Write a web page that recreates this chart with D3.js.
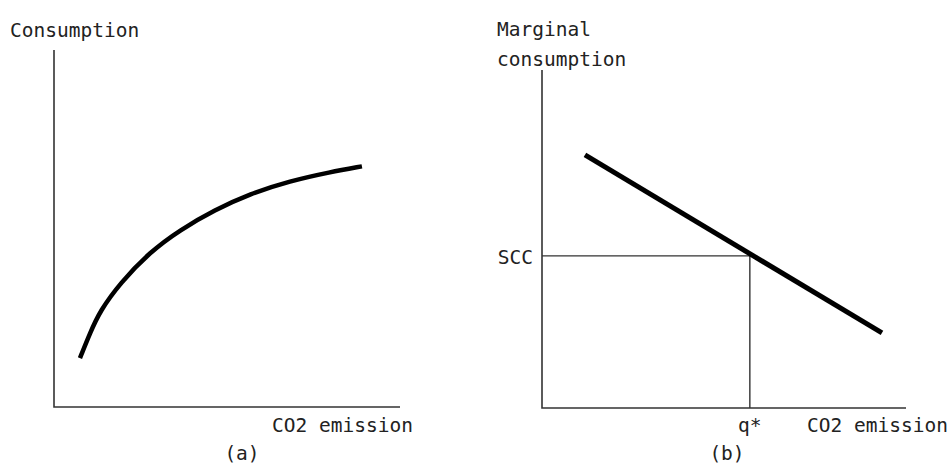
<!DOCTYPE html>
<html>
<head>
<meta charset="utf-8">
<script src="https://cdn.jsdelivr.net/npm/d3@7"></script>
<style>
  html, body { margin: 0; padding: 0; background: #fff; }
  svg text { font-family: "DejaVu Sans Mono", monospace; font-size: 19.5px; fill: #222; }
</style>
</head>
<body>
<svg id="chart" width="950" height="466"></svg>
<script>
// Panel (a): consumption as a concave function of CO2 emission
const consEmission = [7.5, 10.4, 13.3, 19.1, 27.7, 36.4, 46.5, 56.6, 68.2, 79.8, 89.0];
const consLevel    = [13.7, 20.7, 26.9, 34.7, 43.4, 49.6, 55.2, 59.7, 63.3, 65.8, 67.4];

// Panel (b): marginal consumption, a downward-sloping line
const margEmission = [11.8, 93.4];
const margLevel    = [74.9, 22.2];

// Optimum marked on panel (b)
const qStar = 57.1;
const scc = 45;

const svg = d3.select("#chart");
const axisColor = "#333";

function panel(left, right, top, bottom) {
  return {
    x: d3.scaleLinear().domain([0, 100]).range([left, right]),
    y: d3.scaleLinear().domain([0, 100]).range([bottom, top])
  };
}

function drawAxes(p) {
  const [x0, x1] = p.x.range();
  const [y0, y1] = p.y.range();
  svg.append("path")
    .attr("d", `M${x0},${y1}V${y0}H${x1}`)
    .attr("fill", "none")
    .attr("stroke", axisColor)
    .attr("stroke-width", 1.6);
}

// ---- (a)
const a = panel(54, 400, 50, 407);
drawAxes(a);
svg.append("path")
  .datum(consEmission.map((e, i) => [e, consLevel[i]]))
  .attr("d", d3.line().x(d => a.x(d[0])).y(d => a.y(d[1])).curve(d3.curveBasis))
  .attr("fill", "none")
  .attr("stroke", "#000")
  .attr("stroke-width", 4.5);

svg.append("text").attr("x", 10).attr("y", 37).text("Consumption");
svg.append("text").attr("x", 413).attr("y", 432).attr("text-anchor", "end").text("CO2 emission");
svg.append("text").attr("x", 242).attr("y", 460).attr("text-anchor", "middle").text("(a)");

// ---- (b)
const b = panel(542, 906, 70, 408);
drawAxes(b);

svg.append("path")
  .attr("d", `M${b.x(0)},${b.y(scc)}H${b.x(qStar)}V${b.y(0)}`)
  .attr("fill", "none")
  .attr("stroke", axisColor)
  .attr("stroke-width", 1.4);

svg.append("path")
  .datum(margEmission.map((e, i) => [e, margLevel[i]]))
  .attr("d", d3.line().x(d => b.x(d[0])).y(d => b.y(d[1])))
  .attr("fill", "none")
  .attr("stroke", "#000")
  .attr("stroke-width", 5);

svg.append("text").attr("x", 497).attr("y", 36).text("Marginal");
svg.append("text").attr("x", 497).attr("y", 66).text("consumption");
svg.append("text").attr("x", 533).attr("y", b.y(scc) + 8).attr("text-anchor", "end").text("SCC");
svg.append("text").attr("x", b.x(qStar)).attr("y", 432).attr("text-anchor", "middle").text("q*");
svg.append("text").attr("x", 948).attr("y", 432).attr("text-anchor", "end").text("CO2 emission");
svg.append("text").attr("x", 727).attr("y", 460).attr("text-anchor", "middle").text("(b)");
</script>
</body>
</html>
